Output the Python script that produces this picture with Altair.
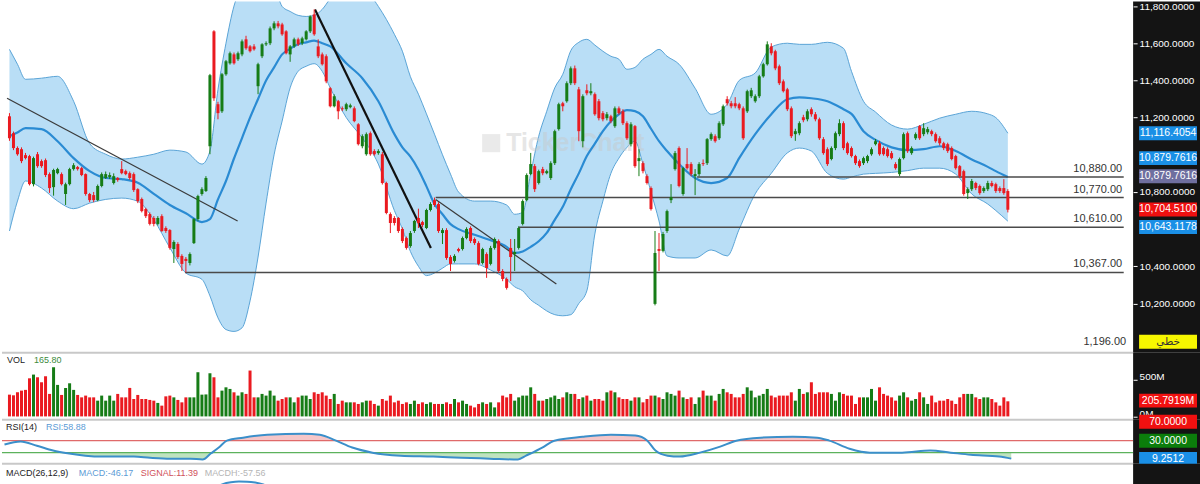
import altair as alt
import pandas as pd

# ---------------- data ----------------
OPEN = [
    11207, 11116, 11036, 11030, 10998, 10993, 10842, 11003, 10966, 10971,
    10896, 10826, 10901, 10896, 10789, 10842, 10923, 10934, 10928, 10896,
    10789, 10783, 10756, 10832, 10875, 10880, 10848, 10875, 10923, 10912,
    10901, 10896, 10815, 10762, 10708, 10681, 10660, 10628, 10670, 10606,
    10595, 10493, 10520, 10456, 10440, 10418, 10525, 10654, 10789, 10805,
    11046, 11664, 11272, 11234, 11433, 11492, 11540, 11514, 11540, 11621,
    11583, 11583, 11369, 11530, 11594, 11600, 11680, 11707, 11701, 11664,
    11540, 11583, 11621, 11600, 11621, 11664, 11755, 11583, 11540, 11530,
    11358, 11261, 11288, 11250, 11245, 11256, 11250, 11164, 11046, 11003,
    11116, 11020, 11009, 11003, 10848, 10681, 10660, 10660, 10601, 10552,
    10509, 10590, 10660, 10638, 10606, 10703, 10756, 10735, 10579, 10595,
    10450, 10429, 10493, 10493, 10552, 10606, 10547, 10525, 10418, 10466,
    10413, 10499, 10536, 10375, 10332, 10499, 10466, 10499, 10628, 10756,
    10896, 10939, 10848, 10923, 10901, 10875, 10955, 11138, 11277, 11288,
    11385, 11465, 11352, 11073, 11347, 11331, 11326, 11288, 11224, 11197,
    11207, 11154, 11250, 11234, 11170, 11057, 11154, 10966, 10955, 10885,
    10821, 10198, 10493, 10483, 10590, 10756, 10923, 11036, 10789, 10950,
    10950, 10885, 10896, 10955, 10955, 11084, 11100, 11089, 11164, 11299,
    11277, 11277, 11272, 11250, 11234, 11315, 11288, 11315, 11422, 11487,
    11583, 11557, 11476, 11395, 11352, 11250, 11111, 11116, 11202, 11191,
    11245, 11218, 11191, 11084, 11030, 10977, 11036, 11111, 11170, 11062,
    11036, 10993, 10966, 10955, 10966, 11003, 11057, 11062, 11036, 11030,
    11009, 10950, 10896, 10982, 11116, 11009, 11089, 11154, 11111, 11121,
    11127, 11111, 11089, 11062, 11057, 11036, 10993, 10939, 10912, 10794,
    10815, 10848, 10832, 10805, 10815, 10848, 10842, 10821, 10821, 10805,
]
HIGH = [
    11224, 11125, 11045, 11040, 11010, 11000, 10990, 11015, 10975, 10980,
    10905, 10925, 10930, 10905, 10850, 10930, 10955, 10940, 10935, 10900,
    10795, 10800, 10840, 10905, 10910, 10905, 10900, 10880, 10966, 10920,
    10910, 10905, 10820, 10770, 10715, 10690, 10670, 10670, 10680, 10615,
    10600, 10540, 10530, 10465, 10450, 10475, 10660, 10785, 10825, 10885,
    11435, 11670, 11285, 11440, 11510, 11555, 11550, 11555, 11620, 11640,
    11590, 11595, 11495, 11600, 11610, 11690, 11718, 11720, 11710, 11670,
    11590, 11630, 11630, 11635, 11670, 11750, 11782, 11621, 11550, 11540,
    11365, 11325, 11295, 11260, 11280, 11275, 11260, 11170, 11110, 11120,
    11125, 11030, 11030, 11015, 10855, 10690, 10670, 10665, 10610, 10560,
    10590, 10650, 10710, 10645, 10710, 10745, 10770, 10745, 10605, 10605,
    10460, 10465, 10500, 10560, 10610, 10615, 10555, 10535, 10500, 10475,
    10510, 10555, 10545, 10385, 10340, 10547, 10547, 10615, 10760, 10900,
    11010, 10950, 10920, 10935, 10920, 10965, 11135, 11280, 11285, 11395,
    11475, 11480, 11365, 11325, 11379, 11385, 11335, 11300, 11235, 11230,
    11215, 11260, 11260, 11245, 11180, 11175, 11160, 11030, 10965, 10895,
    10830, 10590, 10579, 10585, 10705, 10842, 11020, 11045, 10935, 11036,
    10960, 10923, 10960, 10975, 11090, 11120, 11110, 11180, 11270, 11315,
    11290, 11310, 11280, 11260, 11350, 11360, 11325, 11430, 11495, 11610,
    11600, 11565, 11485, 11405, 11360, 11260, 11140, 11180, 11215, 11245,
    11255, 11230, 11200, 11095, 11040, 11045, 11125, 11191, 11180, 11070,
    11045, 11000, 10975, 10990, 11000, 11040, 11085, 11075, 11045, 11040,
    11020, 10960, 10985, 11120, 11125, 11045, 11120, 11160, 11170, 11150,
    11135, 11120, 11100, 11070, 11065, 11045, 11000, 10945, 10920, 10825,
    10870, 10855, 10840, 10830, 10860, 10860, 10850, 10830, 10869, 10815,
]
LOW = [
    11075, 11025, 10995, 10955, 10975, 10835, 10830, 10930, 10930, 10880,
    10795, 10780, 10895, 10835, 10730, 10835, 10915, 10915, 10885, 10780,
    10745, 10745, 10750, 10825, 10870, 10870, 10840, 10855, 10895, 10890,
    10865, 10800, 10740, 10690, 10660, 10620, 10615, 10620, 10585, 10580,
    10490, 10418, 10440, 10375, 10367, 10405, 10520, 10645, 10780, 10800,
    11003, 11290, 11191, 11225, 11425, 11485, 11485, 11505, 11530, 11565,
    11550, 11560, 11326, 11520, 11585, 11590, 11670, 11680, 11640, 11540,
    11500, 11575, 11585, 11590, 11615, 11655, 11640, 11520, 11480, 11385,
    11255, 11255, 11191, 11235, 11235, 11250, 11175, 11050, 11035, 10995,
    10995, 10995, 11000, 10840, 10680, 10579, 10620, 10580, 10525, 10490,
    10500, 10580, 10606, 10610, 10600, 10695, 10720, 10580, 10520, 10435,
    10375, 10420, 10475, 10485, 10545, 10525, 10515, 10405, 10410, 10338,
    10405, 10490, 10365, 10320, 10275, 10321, 10375, 10490, 10620, 10750,
    10890, 10800, 10840, 10890, 10895, 10865, 10945, 11130, 11234, 11280,
    11375, 11375, 11073, 11040, 11320, 11320, 11210, 11185, 11180, 11185,
    11170, 11145, 11215, 11160, 11080, 11045, 10930, 10885, 10900, 10840,
    10700, 10190, 10375, 10475, 10580, 10740, 10915, 10825, 10780, 10920,
    10885, 10783, 10885, 10940, 10945, 11075, 11065, 11080, 11155, 11265,
    11250, 11250, 11240, 11080, 11225, 11305, 11280, 11305, 11415, 11480,
    11535, 11455, 11375, 11335, 11235, 11090, 11075, 11105, 11175, 11180,
    11205, 11180, 11080, 11000, 10940, 10970, 11025, 11100, 11025, 11000,
    10985, 10945, 10930, 10945, 10955, 10995, 11050, 10995, 10995, 10985,
    10975, 10920, 10885, 10975, 11010, 11000, 11080, 11080, 11100, 11110,
    11100, 11065, 11050, 11025, 11010, 10970, 10920, 10875, 10780, 10762,
    10805, 10810, 10785, 10795, 10805, 10825, 10795, 10795, 10785, 10690,
]
CLOSE = [
    11089, 11036, 11003, 10966, 10982, 10842, 10982, 10939, 10939, 10891,
    10821, 10918, 10923, 10842, 10842, 10923, 10944, 10923, 10891, 10789,
    10756, 10756, 10832, 10896, 10896, 10891, 10885, 10864, 10901, 10896,
    10875, 10810, 10751, 10697, 10670, 10628, 10628, 10660, 10590, 10590,
    10499, 10531, 10450, 10413, 10429, 10466, 10654, 10778, 10815, 10875,
    11428, 11304, 11224, 11433, 11503, 11546, 11492, 11546, 11610, 11573,
    11557, 11567, 11487, 11594, 11600, 11680, 11707, 11691, 11648, 11546,
    11583, 11621, 11594, 11626, 11664, 11744, 11648, 11530, 11487, 11395,
    11261, 11315, 11234, 11245, 11272, 11266, 11181, 11057, 11100, 11111,
    11003, 11003, 11020, 10848, 10687, 10633, 10633, 10590, 10536, 10499,
    10579, 10644, 10633, 10622, 10703, 10735, 10730, 10590, 10595, 10445,
    10413, 10456, 10483, 10552, 10601, 10536, 10525, 10413, 10493, 10391,
    10499, 10547, 10375, 10332, 10284, 10450, 10477, 10606, 10751, 10891,
    10950, 10815, 10912, 10901, 10912, 10955, 11127, 11272, 11261, 11385,
    11465, 11385, 11127, 11315, 11331, 11342, 11218, 11197, 11191, 11218,
    11181, 11250, 11224, 11170, 11089, 11164, 10939, 10982, 10912, 10848,
    10708, 10472, 10483, 10574, 10697, 10773, 11009, 10832, 10928, 10928,
    10896, 10896, 10950, 10950, 11084, 11111, 11073, 11170, 11261, 11277,
    11261, 11261, 11250, 11089, 11342, 11347, 11315, 11422, 11487, 11594,
    11546, 11465, 11385, 11342, 11245, 11100, 11127, 11170, 11186, 11234,
    11218, 11191, 11089, 11009, 10950, 11036, 11116, 11170, 11036, 11009,
    10993, 10955, 10939, 10982, 10993, 11030, 11073, 11003, 11003, 10993,
    10982, 10928, 10977, 11111, 11020, 11036, 11111, 11089, 11143, 11138,
    11111, 11073, 11062, 11036, 11020, 10977, 10928, 10885, 10789, 10815,
    10859, 10821, 10794, 10821, 10848, 10832, 10805, 10805, 10794, 10704.51,
]
VOLUME_M = [
    297, 288, 329, 352, 362, 520, 571, 534, 466, 548,
    307, 671, 430, 293, 389, 452, 362, 293, 260, 284,
    260, 260, 215, 284, 215, 284, 215, 307, 260, 260,
    389, 238, 293, 238, 238, 225, 215, 184, 147, 274,
    284, 260, 225, 192, 260, 260, 260, 603, 297, 300,
    589, 534, 260, 352, 397, 375, 329, 284, 329, 307,
    626, 260, 260, 307, 284, 352, 284, 215, 238, 260,
    260, 192, 260, 284, 284, 238, 329, 307, 329, 284,
    238, 307, 170, 215, 192, 192, 192, 170, 192, 215,
    215, 170, 147, 238, 215, 284, 192, 215, 170, 192,
    170, 215, 170, 192, 170, 192, 170, 170, 170, 192,
    170, 238, 192, 215, 170, 147, 123, 170, 192, 170,
    192, 123, 192, 284, 260, 307, 215, 260, 284, 284,
    397, 307, 215, 215, 238, 260, 284, 238, 260, 329,
    307, 307, 238, 260, 284, 215, 238, 238, 215, 329,
    352, 329, 260, 238, 238, 215, 260, 260, 192, 238,
    284, 284, 260, 238, 329, 307, 284, 352, 260, 238,
    260, 170, 260, 352, 284, 284, 215, 307, 375, 329,
    307, 260, 260, 307, 397, 352, 260, 284, 307, 375,
    284, 260, 284, 284, 284, 329, 215, 375, 307, 329,
    466, 307, 329, 329, 329, 307, 215, 329, 307, 284,
    284, 170, 260, 260, 260, 375, 215, 397, 307, 284,
    260, 215, 284, 329, 260, 215, 238, 329, 260, 170,
    284, 192, 215, 215, 238, 215, 170, 260, 307, 307,
    307, 260, 238, 260, 260, 238, 192, 147, 260, 206,
]

# Bollinger bands (20, 2) read at sample candles
BB_IDX = [0, 2, 4, 8, 12, 16, 20, 24, 28, 32, 36, 40, 44, 48, 50, 52, 54, 56, 58, 60,
          62, 64, 66, 68, 70, 72, 74, 76, 78, 80, 84, 88, 92, 96, 98, 100, 102, 104, 106, 108,
          110, 112, 116, 120, 124, 126, 128, 130, 132, 134, 136, 138, 140, 142, 144, 146, 148, 150, 152, 154,
          156, 158, 160, 162, 164, 167, 171, 175, 179, 182, 186, 190, 194, 197, 200, 204, 208, 210, 213, 216,
          220, 224, 228, 232, 236, 240, 244, 246, 249]
BB_UPPER = [11567, 11487, 11406, 11412, 11422, 11288, 11060, 11003, 10977, 10987,
            11003, 11025, 11015, 10950, 11020, 11350, 11600, 11800, 11906, 11960,
            11986, 11970, 11920, 11798, 11771, 11750, 11744, 11750, 11782, 11840,
            11930, 11906, 11798, 11648, 11557, 11420, 11326, 11220, 11111, 11000,
            10896, 10800, 10751, 10751, 10730, 10680, 10690, 10900, 11100, 11234,
            11360, 11433, 11560, 11605, 11621, 11590, 11557, 11530, 11514, 11460,
            11470, 11514, 11540, 11567, 11530, 11487, 11358, 11218, 11272, 11400,
            11440, 11580, 11600, 11594, 11594, 11605, 11573, 11449, 11288, 11230,
            11160, 11138, 11164, 11197, 11218, 11234, 11220, 11200, 11116]
BB_MID = [11100, 11120, 11143, 11138, 11073, 10982, 10912, 10875, 10869, 10850,
          10790, 10730, 10685, 10638, 10654, 10760, 10859, 10980, 11090, 11200,
          11300, 11400, 11470, 11540, 11570, 11595, 11605, 11614, 11600, 11583,
          11492, 11412, 11288, 11111, 11040, 10990, 10920, 10830, 10735, 10680,
          10627, 10600, 10570, 10540, 10505, 10472, 10480, 10505, 10535, 10580,
          10650, 10720, 10815, 10900, 10993, 11060, 11127, 11180, 11218, 11240,
          11235, 11207, 11140, 11073, 11020, 10950, 10875, 10848, 10875, 10982,
          11111, 11218, 11299, 11309, 11304, 11288, 11245, 11220, 11127, 11080,
          11040, 11025, 11030, 11046, 11020, 10975, 10935, 10912, 10880]
BB_LOWER = [10590, 10751, 10859, 10821, 10751, 10710, 10740, 10760, 10767, 10750,
            10650, 10500, 10364, 10330, 10241, 10123, 10060, 10050, 10069, 10214,
            10450, 10740, 11000, 11181, 11360, 11449, 11476, 11490, 11449, 11360,
            11200, 11090, 10950, 10700, 10601, 10480, 10400, 10350, 10364, 10390,
            10413, 10413, 10413, 10380, 10330, 10290, 10268, 10220, 10190, 10160,
            10140, 10134, 10140, 10200, 10268, 10574, 10751, 10900, 10982, 11040,
            11073, 10950, 10800, 10644, 10456, 10445, 10445, 10488, 10456, 10600,
            10790, 10900, 11010, 11036, 11020, 10900, 10869, 10880, 10896, 10900,
            10905, 10915, 10928, 10928, 10896, 10789, 10735, 10700, 10643]

# Horizontal support / resistance levels
LEVELS = [10880, 10770, 10610, 10367]
LEVEL_START = [171.5, 106.3, 127.0, 43.8]
LEVEL_END = 277.9

# Trend lines (candle index, price)
TREND_X1 = [-0.6, 76.2, 106.3]
TREND_Y1 = [11304, 11782, 10760]
TREND_X2 = [56.9, 105.1, 136.4]
TREND_Y2 = [10644, 10499, 10305]
TREND_W = [1.2, 2.2, 1.2]
TREND_C = ["#3a3a3a", "#111111", "#3a3a3a"]

PRICE_TICKS = [10200, 10400, 10800, 11200, 11400, 11600, 11800]
PRICE_BOX_TEXT = ["11,116.4054", "10,879.7616", "10,879.7616", "10,704.5100", "10,643.1178", "خطي"]
PRICE_BOX_POS = [11116.4, 10982, 10885, 10706, 10611, 9994]
PRICE_BOX_FILL = ["#1a8fe6", "#1a8fe6", "#6f6f9f", "#f01010", "#1a8fe6", "#f7f700"]
PRICE_BOX_TXT = ["white", "white", "white", "white", "white", "#333333"]

VOL_TICKS = [0, 500]
VOL_BOX_TEXT = ["205.7919M"]
VOL_BOX_POS = [215]
VOL_BOX_FILL = ["#f01010"]

RSI_IDX = [0, 4, 8, 12, 16, 20, 24, 32, 36, 41, 46, 49, 51, 53, 55, 59, 65, 74, 78, 82,
           86, 91, 98, 106, 113, 120, 127, 129, 133, 136, 143, 150, 156, 159, 161, 164, 167, 172, 177, 181,
           187, 195, 201, 204, 209, 214, 222, 229, 234, 239, 246, 249]
RSI_VAL = [57, 67, 53, 37, 27, 20, 17, 17, 13, 10, 10, 7, 27, 47, 70, 80, 90, 93, 90, 70,
           47, 30, 20, 17, 13, 10, 7, 20, 47, 70, 83, 90, 87, 70, 37, 20, 17, 30, 50, 70,
           80, 83, 80, 70, 43, 30, 30, 37, 30, 23, 17, 10]
RSI_BOX_TEXT = ["70.0000", "30.0000", "9.2512"]
RSI_BOX_POS = [133, 70, 9]
RSI_BOX_FILL = ["#f01010", "#0b7d0b", "#1a8fe6"]

MACD_IDX = [52, 54, 56, 58, 60, 62, 64, 66]
MACD_VAL = [-130, -95, -78, -71, -72, -80, -98, -130]

# ---------------- styling ----------------
FONT = "Liberation Sans"
GREEN = "#167c16"
RED = "#ea1a20"
W = 1200
AX = 1133
H_PRICE, H_VOL, H_RSI, H_MACD = 352, 67, 44, 21

XS = alt.Scale(domain=[-0.617, 295.68], nice=False, zero=False)
PS = alt.Scale(domain=[9934.8, 11825], nice=False, zero=False)
VS = alt.Scale(domain=[-45, 868], nice=False, zero=False)
RS = alt.Scale(domain=[-6.67, 140], nice=False, zero=False)
MS = alt.Scale(domain=[-100, 100], nice=False, zero=False)


def axis(values, fmt=None, expr=None, loff=0):
    kw = dict(orient="right", offset=-(W - AX), values=values, labelColor="white",
              tickColor="white", tickSize=4, domain=False, grid=False, labelFont=FONT,
              labelFontSize=10, labelPadding=2, zindex=1, title=None, labelOffset=loff)
    if fmt:
        kw["format"] = fmt
    if expr:
        kw["labelExpr"] = expr
    return alt.Axis(**kw)


PRICE_AXIS = axis(PRICE_TICKS, fmt=",.4f")
VOL_AXIS = axis(VOL_TICKS, expr="datum.value + 'M'", loff=-3)


def xq(field="idx"):
    return alt.X(f"{field}:Q", scale=XS, axis=None)


def py(field):
    return alt.Y(f"{field}:Q", scale=PS, axis=PRICE_AXIS)


ONE = pd.DataFrame({"k": [0]})


def label(text, x, y, color, size=9, align="left", font=FONT, weight="normal", opacity=1.0):
    return alt.Chart(ONE).mark_text(text=text, align=align, baseline="middle", color=color,
                                    fontSize=size, font=font, fontWeight=weight,
                                    opacity=opacity).encode(
        x=alt.value(x), y=alt.value(y))


def black_strip(h):
    return alt.Chart(ONE).mark_rect(color="#141414").encode(
        x=alt.value(AX), x2=alt.value(W), y=alt.value(0), y2=alt.value(h))


def separator():
    return alt.Chart(ONE).mark_rule(color="#c8c8c8", strokeWidth=2).encode(
        x=alt.value(0), x2=alt.value(AX), y=alt.value(0))


def boxes(texts, pos, fills, tcolors, scale, half, yaxis=None, font=FONT):
    df = pd.DataFrame({"t": texts, "pos": pos, "fill": fills, "tc": tcolors})
    yk = dict(scale=scale)
    yk["axis"] = yaxis if yaxis is not None else None
    rect = alt.Chart(df).transform_calculate(
        top=f"datum.pos + {half}", bot=f"datum.pos - {half}"
    ).mark_rect().encode(
        x=alt.value(1139), x2=alt.value(1197),
        y=alt.Y("top:Q", **yk), y2="bot:Q",
        color=alt.Color("fill:N", scale=None),
    )
    txt = alt.Chart(df).mark_text(font=font, fontSize=10.5, align="center", baseline="middle").encode(
        x=alt.value(1168), y=alt.Y("pos:Q", **yk), text="t:N",
        color=alt.Color("tc:N", scale=None),
    )
    return rect + txt


candles = pd.DataFrame({
    "idx": list(range(len(CLOSE))), "open": OPEN, "high": HIGH,
    "low": LOW, "close": CLOSE, "volume": VOLUME_M,
})
cond = alt.condition("datum.close >= datum.open", alt.value(GREEN), alt.value(RED))

# ---------------- price panel ----------------
bb = pd.DataFrame({"idx": BB_IDX, "upper": BB_UPPER, "mid": BB_MID, "lower": BB_LOWER})
band = alt.Chart(bb).mark_area(color="#b9def6", clip=True, interpolate="monotone").encode(
    x=xq(), y=py("upper"), y2="lower:Q")
band_up = alt.Chart(bb).mark_line(color="#5aa4d6", strokeWidth=1, clip=True, interpolate="monotone").encode(
    x=xq(), y=py("upper"))
band_lo = alt.Chart(bb).mark_line(color="#5aa4d6", strokeWidth=1, clip=True, interpolate="monotone").encode(
    x=xq(), y=py("lower"))
band_mid = alt.Chart(bb).mark_line(color="#2a8bd3", strokeWidth=2.2, clip=True, interpolate="monotone").encode(
    x=xq(), y=py("mid"))

lv = pd.DataFrame({
    "level": LEVELS, "start": LEVEL_START, "end": [LEVEL_END] * len(LEVELS),
    "lx": [LEVEL_END - 0.4] * len(LEVELS), "label": [f"{v:,.2f}" for v in LEVELS],
})
level_rules = alt.Chart(lv).mark_rule(color="#4a4a4a", strokeWidth=1.5).encode(
    x=xq("start"), x2="end:Q", y=py("level"))
level_text = alt.Chart(lv).mark_text(align="right", baseline="middle", dy=-8, fontSize=11,
                                     color="#333333", font=FONT).encode(
    x=xq("lx"), y=py("level"), text="label:N")

tr = pd.DataFrame({"x1": TREND_X1, "y1": TREND_Y1, "x2": TREND_X2, "y2": TREND_Y2,
                   "w": TREND_W, "c": TREND_C})
trends = alt.Chart(tr).mark_rule().encode(
    x=xq("x1"), x2="x2:Q", y=py("y1"), y2="y2:Q",
    strokeWidth=alt.StrokeWidth("w:Q", scale=None),
    color=alt.Color("c:N", scale=None))

wicks = alt.Chart(candles).mark_rule(strokeWidth=1).encode(
    x=xq(), y=py("low"), y2="high:Q", color=cond)
bodies = alt.Chart(candles).mark_bar(size=3).encode(
    x=xq(), y=py("open"), y2="close:Q", color=cond)

watermark = label("TickerChart", 505, 142, "#c8c8c8", size=25, weight="bold", opacity=0.45)
wm_icon = alt.Chart(ONE).mark_point(shape="square", filled=True, size=330, color="#d0d0d0",
                                    opacity=0.45).encode(
    x=alt.value(490), y=alt.value(142))

price = alt.layer(
    band, band_up, band_lo, watermark, wm_icon, band_mid,
    level_rules, level_text, trends, wicks, bodies,
    black_strip(H_PRICE),
    boxes(PRICE_BOX_TEXT[:5], PRICE_BOX_POS[:5], PRICE_BOX_FILL[:5], PRICE_BOX_TXT[:5], PS, 37.6, PRICE_AXIS),
    boxes(PRICE_BOX_TEXT[5:], PRICE_BOX_POS[5:], PRICE_BOX_FILL[5:], PRICE_BOX_TXT[5:], PS, 37.6, PRICE_AXIS,
          font="DejaVu Sans"),
    label("1,196.00", 1126, 341, "#333333", size=11, align="right"),
).properties(width=W, height=H_PRICE)

# ---------------- volume panel ----------------
vol_bars = alt.Chart(candles).mark_bar(size=3).encode(
    x=xq(), y=alt.Y("volume:Q", scale=VS, axis=VOL_AXIS), y2=alt.datum(0), color=cond)
vol = alt.layer(
    vol_bars, separator(), black_strip(H_VOL),
    boxes(VOL_BOX_TEXT, VOL_BOX_POS, VOL_BOX_FILL, ["white"], VS, 95, VOL_AXIS),
    label("VOL", 5, 7, "#222222"),
    label("165.80", 32, 7, "#3b8a3b"),
).properties(width=W, height=H_VOL)

# ---------------- RSI panel ----------------
rsi_df = pd.DataFrame({"idx": RSI_IDX, "rsi": RSI_VAL})
rsi_base = alt.Chart(rsi_df).transform_calculate(
    hi="max(datum.rsi, 70)", lo="min(datum.rsi, 30)")
rsi_red = rsi_base.mark_area(color="#f5c6c8", interpolate="monotone").encode(
    x=xq(), y=alt.Y("hi:Q", scale=RS, axis=None), y2=alt.datum(70))
rsi_green = rsi_base.mark_area(color="#bfe3bf", interpolate="monotone").encode(
    x=xq(), y=alt.Y("lo:Q", scale=RS, axis=None), y2=alt.datum(30))
rsi_lines = alt.Chart(pd.DataFrame({"v": [70, 30], "c": ["#e06a6a", "#5cb25c"]})).mark_rule(strokeWidth=1.3).encode(
    x=alt.value(0), x2=alt.value(AX), y=alt.Y("v:Q", scale=RS, axis=None),
    color=alt.Color("c:N", scale=None))
rsi_line = alt.Chart(rsi_df).mark_line(color="#3b8fca", strokeWidth=2, interpolate="monotone").encode(
    x=xq(), y=alt.Y("rsi:Q", scale=RS, axis=None))
rsi = alt.layer(
    rsi_red, rsi_green, rsi_lines, rsi_line, separator(), black_strip(H_RSI),
    boxes(RSI_BOX_TEXT, RSI_BOX_POS, RSI_BOX_FILL, ["white"] * 3, RS, 23.3),
    label("RSI(14)", 4, 7, "#222222"),
    label("RSI:58.88", 44, 7, "#5b9bd5"),
).properties(width=W, height=H_RSI)

# ---------------- MACD panel ----------------
macd_df = pd.DataFrame({"idx": MACD_IDX, "macd": MACD_VAL})
macd_line = alt.Chart(macd_df).mark_line(color="#3b8fca", strokeWidth=2, clip=True, interpolate="monotone").encode(
    x=xq(), y=alt.Y("macd:Q", scale=MS, axis=None))
macd = alt.layer(
    macd_line, separator(), black_strip(H_MACD),
    label("MACD(26,12,9)", 4, 9, "#222222"),
    label("MACD:-46.17", 77, 9, "#5b9bd5"),
    label("SIGNAL:11.39", 139, 9, "#d0505a"),
    label("MACDH:-57.56", 203, 9, "#b5b5b5"),
).properties(width=W, height=H_MACD)

chart = alt.vconcat(price, vol, rsi, macd, spacing=0, bounds="flush").properties(
    padding=0, background="white"
).configure_view(strokeWidth=0)

chart.save("out.html", embed_options={"renderer": "svg", "actions": False})
